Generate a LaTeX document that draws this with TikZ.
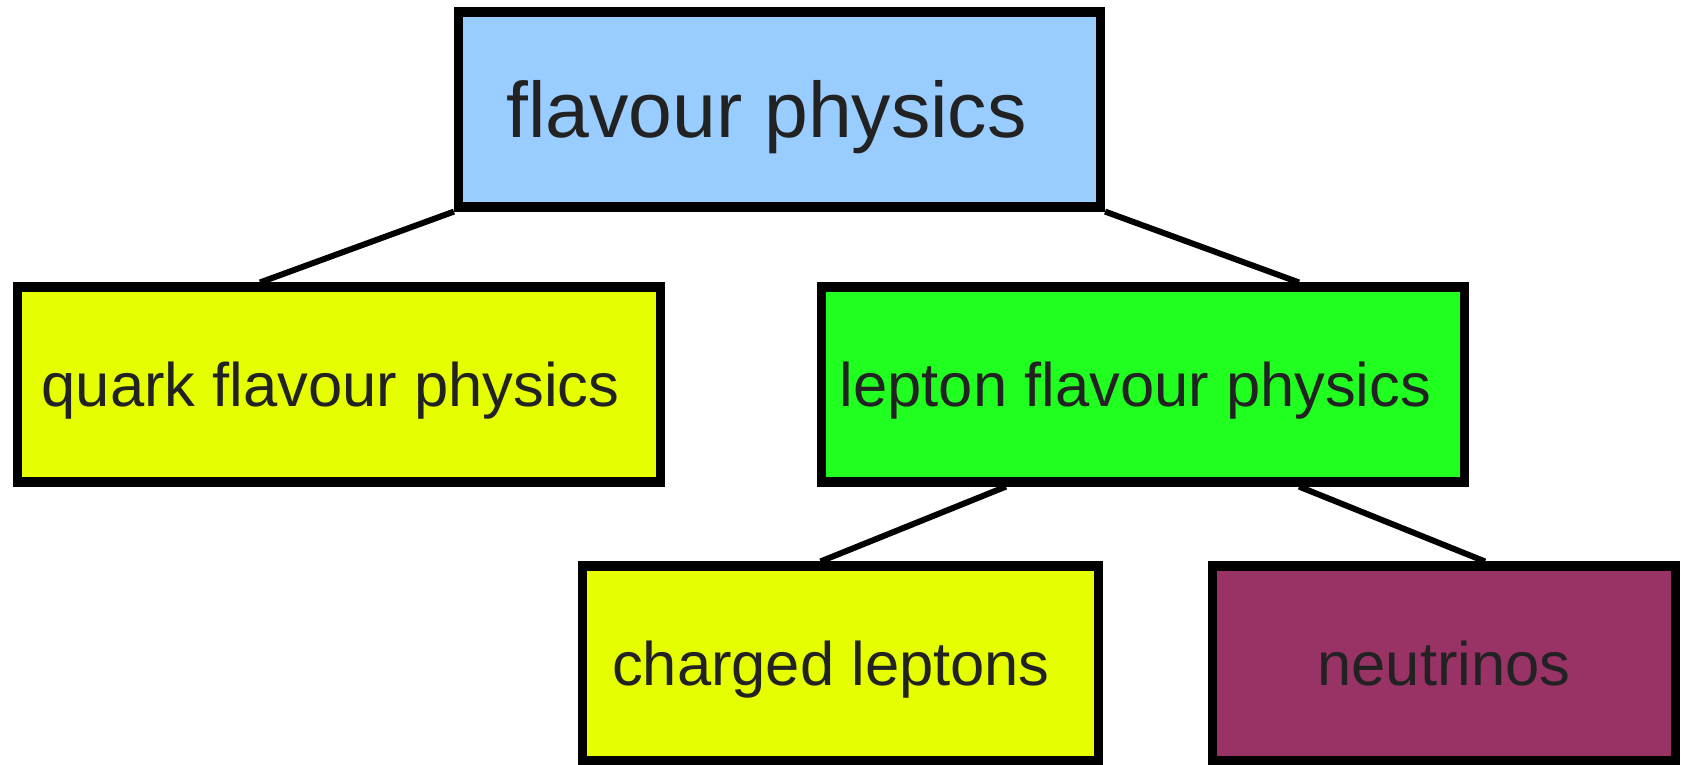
\documentclass[tikz,border=0pt]{standalone}
\usepackage{fontspec}
\setmainfont{Liberation Sans}
\usepackage{xcolor}
\usetikzlibrary{positioning}
\definecolor{topblue}{RGB}{153, 204, 255}
\definecolor{lime}{RGB}{229, 255, 0}
\definecolor{brightgreen}{RGB}{33, 255, 33}
\definecolor{plum}{RGB}{153, 51, 102}
\definecolor{txt}{RGB}{34, 34, 34}

\begin{document}
\begin{tikzpicture}[
    topicbox/.style={
        draw,
        line width=2.6pt,
        fill=#1,
        text=txt,
        font=\fontsize{17.5}{21}\selectfont,
        minimum height=1.95cm,
        text height=16.4pt,
        text depth=3.7pt,
        inner sep=0pt
    },
    topicbox/.default=white,
    branch/.style={line width=1.7pt}
]
\useasboundingbox (0,0) rectangle (16.81,-7.64);

% === root ===
\node[topicbox=topblue, minimum width=6.42cm, font=\fontsize{22.4}{26}\selectfont,
      text height=20.6pt, text depth=4.7pt] (flav) at (7.795,-1.095) {flavour physics\kern0.26cm};

% === second level ===
\node[topicbox=lime, minimum width=6.43cm] (quark) at (3.39,-3.845) {quark flavour physics\kern0.17cm};
\node[topicbox=brightgreen, minimum width=6.43cm] (lepton) at (11.43,-3.845) {lepton flavour physics\kern0.15cm};

% === third level ===
\node[topicbox=lime, minimum width=5.16cm] (charged) at (8.405,-6.635) {charged leptons\kern0.19cm};
\node[topicbox=plum, minimum width=4.63cm] (nu) at (14.44,-6.635) {neutrinos};

% === branches ===
\draw[branch] (flav.south west) -- ([xshift=-0.79cm]quark.north);
\draw[branch] (flav.south east) -- ([xshift=1.56cm]lepton.north);
\draw[branch] ([xshift=-1.37cm]lepton.south) -- ([xshift=-0.2cm]charged.north);
\draw[branch] ([xshift=1.56cm]lepton.south) -- ([xshift=0.41cm]nu.north);

\end{tikzpicture}
\end{document}
